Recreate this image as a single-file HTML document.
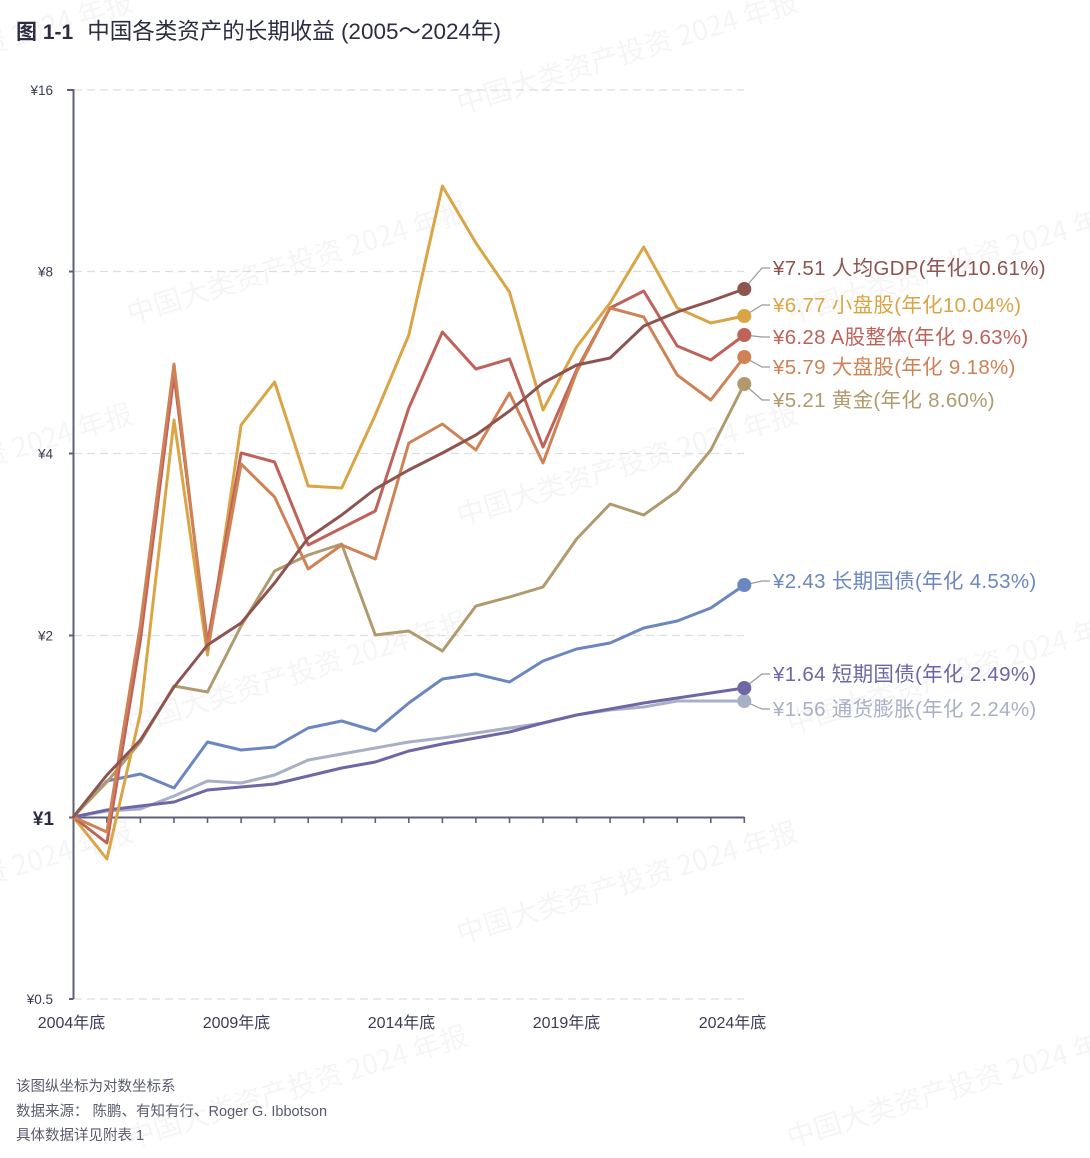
<!DOCTYPE html>
<html>
<head>
<meta charset="utf-8">
<style>
html,body{margin:0;padding:0;background:#fff;}
body{width:1090px;height:1158px;overflow:hidden;font-family:"Liberation Sans","Noto Sans CJK SC",sans-serif;}
svg{display:block;}
</style>
</head>
<body>
<svg width="1090" height="1158" viewBox="0 0 1090 1158" xmlns="http://www.w3.org/2000/svg" font-family="'Liberation Sans','Noto Sans CJK SC',sans-serif">
  <!-- watermarks -->
  <g fill="#000" fill-opacity="0.04" font-size="28" font-family="'Noto Sans CJK SC','Liberation Sans',sans-serif" text-anchor="middle">
    <text transform="translate(630,62) rotate(-17)">中国大类资产投资 2024 年报</text>
    <text transform="translate(-35,62) rotate(-17)">中国大类资产投资 2024 年报</text>
    <text transform="translate(300,272) rotate(-17)">中国大类资产投资 2024 年报</text>
    <text transform="translate(960,272) rotate(-17)">中国大类资产投资 2024 年报</text>
    <text transform="translate(630,474) rotate(-17)">中国大类资产投资 2024 年报</text>
    <text transform="translate(-35,474) rotate(-17)">中国大类资产投资 2024 年报</text>
    <text transform="translate(300,682) rotate(-17)">中国大类资产投资 2024 年报</text>
    <text transform="translate(960,682) rotate(-17)">中国大类资产投资 2024 年报</text>
    <text transform="translate(630,892) rotate(-17)">中国大类资产投资 2024 年报</text>
    <text transform="translate(-35,892) rotate(-17)">中国大类资产投资 2024 年报</text>
    <text transform="translate(300,1096) rotate(-17)">中国大类资产投资 2024 年报</text>
    <text transform="translate(960,1096) rotate(-17)">中国大类资产投资 2024 年报</text>
  </g>

  <!-- title -->
  <text x="16" y="39" fill="#2b2d42"><tspan font-size="21" font-weight="bold">图 1-1</tspan><tspan dx="14" font-size="22.5">中国各类资产的长期收益 (2005～2024年)</tspan></text>

  <!-- gridlines -->
  <g stroke="#dcdde6" stroke-width="1.3" stroke-dasharray="8,5">
    <line x1="74" y1="90" x2="744" y2="90"/>
    <line x1="74" y1="271.5" x2="744" y2="271.5"/>
    <line x1="74" y1="453.5" x2="744" y2="453.5"/>
    <line x1="74" y1="635.5" x2="744" y2="635.5"/>
    <line x1="74" y1="999" x2="744" y2="999"/>
  </g>

  <!-- axes -->
  <g stroke="#5d6079" stroke-width="2">
    <line x1="73.5" y1="89" x2="73.5" y2="999"/>
    <line x1="73.5" y1="817.5" x2="744.5" y2="817.5"/>
    <line x1="67" y1="90" x2="73.5" y2="90"/>
    <line x1="69" y1="271.5" x2="73.5" y2="271.5"/>
    <line x1="69" y1="453.5" x2="73.5" y2="453.5"/>
    <line x1="69" y1="635.5" x2="73.5" y2="635.5"/>
    <line x1="69" y1="817.5" x2="73.5" y2="817.5"/>
    <line x1="69" y1="999" x2="73.5" y2="999"/>
  </g>
  <g stroke="#5d6079" stroke-width="1.6">
    <line x1="106.9" y1="817" x2="106.9" y2="823"/>
    <line x1="140.4" y1="817" x2="140.4" y2="823"/>
    <line x1="174.0" y1="817" x2="174.0" y2="823"/>
    <line x1="207.5" y1="817" x2="207.5" y2="823"/>
    <line x1="241.1" y1="817" x2="241.1" y2="823"/>
    <line x1="274.6" y1="817" x2="274.6" y2="823"/>
    <line x1="308.2" y1="817" x2="308.2" y2="823"/>
    <line x1="341.7" y1="817" x2="341.7" y2="823"/>
    <line x1="375.3" y1="817" x2="375.3" y2="823"/>
    <line x1="408.8" y1="817" x2="408.8" y2="823"/>
    <line x1="442.4" y1="817" x2="442.4" y2="823"/>
    <line x1="475.9" y1="817" x2="475.9" y2="823"/>
    <line x1="509.5" y1="817" x2="509.5" y2="823"/>
    <line x1="543.0" y1="817" x2="543.0" y2="823"/>
    <line x1="576.6" y1="817" x2="576.6" y2="823"/>
    <line x1="610.1" y1="817" x2="610.1" y2="823"/>
    <line x1="643.7" y1="817" x2="643.7" y2="823"/>
    <line x1="677.2" y1="817" x2="677.2" y2="823"/>
    <line x1="710.8" y1="817" x2="710.8" y2="823"/>
    <line x1="744.3" y1="817" x2="744.3" y2="823"/>
  </g>

  <!-- y labels -->
  <g font-size="13.5" fill="#3a3c52" text-anchor="end">
    <text x="53" y="95">¥16</text>
    <text x="53" y="276.5">¥8</text>
    <text x="53" y="458.5">¥4</text>
    <text x="53" y="640.5">¥2</text>
    <text x="53" y="1004">¥0.5</text>
  </g>
  <text x="54" y="825" font-size="19" font-weight="bold" fill="#2b2d42" text-anchor="end">¥1</text>

  <!-- x labels -->
  <g font-size="16" fill="#3a3c55" text-anchor="middle">
    <text x="71.5" y="1028">2004年底</text>
    <text x="236.5" y="1028">2009年底</text>
    <text x="401.5" y="1028">2014年底</text>
    <text x="566.5" y="1028">2019年底</text>
    <text x="732.5" y="1028">2024年底</text>
  </g>

  <!-- series -->
  <g fill="none" stroke-width="3" stroke-linejoin="round" stroke-linecap="round">
    <polyline stroke="#a8b0c6" points="73.3,817 106.9,811 140.4,809 174.0,796 207.5,781 241.1,783 274.6,775 308.2,760 341.7,754 375.3,748 408.8,742 442.4,738 475.9,733 509.5,728 543.0,723 576.6,715 610.1,710 643.7,707 677.2,701 710.8,701 744.3,701"/>
    <polyline stroke="#6d67a6" points="73.3,817 106.9,810 140.4,806 174.0,802 207.5,790 241.1,787 274.6,784 308.2,776 341.7,768 375.3,762 408.8,751 442.4,744 475.9,738 509.5,732 543.0,723 576.6,715 610.1,709 643.7,703 677.2,698 710.8,693 744.3,688"/>
    <polyline stroke="#6c87bf" points="73.3,817 106.9,781 140.4,774 174.0,788 207.5,742 241.1,750 274.6,747 308.2,728 341.7,721 375.3,731 408.8,703 442.4,679 475.9,674 509.5,682 543.0,661 576.6,649 610.1,643 643.7,628 677.2,621 710.8,608 744.3,585"/>
    <polyline stroke="#b09a6e" points="73.3,817 106.9,782 140.4,742 174.0,686 207.5,692 241.1,626 274.6,571 308.2,555 341.7,544 375.3,635 408.8,631 442.4,651 475.9,606 509.5,597 543.0,587 576.6,539 610.1,504 643.7,515 677.2,491 710.8,450 744.3,384"/>
    <polyline stroke="#d9a546" points="73.3,817 106.9,859 140.4,713 174.0,420 207.5,655 241.1,425 274.6,382 308.2,486 341.7,488 375.3,415 408.8,335 442.4,186 475.9,243 509.5,292 543.0,410 576.6,347 610.1,303 643.7,247 677.2,308 710.8,323 744.3,316"/>
    <polyline stroke="#bf625a" points="73.3,817 106.9,843 140.4,640 174.0,375 207.5,643 241.1,453 274.6,462 308.2,545 341.7,528 375.3,511 408.8,408 442.4,332 475.9,369 509.5,359 543.0,447 576.6,370 610.1,308 643.7,291 677.2,346 710.8,360 744.3,335"/>
    <polyline stroke="#cf8256" points="73.3,817 106.9,832 140.4,625 174.0,364 207.5,650 241.1,464 274.6,497 308.2,569 341.7,545 375.3,559 408.8,443 442.4,424 475.9,450 509.5,393 543.0,463 576.6,372 610.1,308 643.7,317 677.2,375 710.8,400 744.3,357"/>
    <polyline stroke="#8e544f" points="73.3,817 106.9,775 140.4,740 174.0,687 207.5,645 241.1,623 274.6,583 308.2,538 341.7,515 375.3,489 408.8,470 442.4,453 475.9,435 509.5,411 543.0,383 576.6,365 610.1,358 643.7,326 677.2,312 710.8,301 744.3,289"/>
  </g>

  <!-- leader lines -->
  <g fill="none" stroke="#9a9a9a" stroke-width="1.2">
    <polyline points="744,289 762,268 770,268"/>
    <polyline points="744,316 762,305 770,305"/>
    <polyline points="744,335 762,337 770,337"/>
    <polyline points="744,357 762,367 770,367"/>
    <polyline points="744,384 762,400 770,400"/>
    <polyline points="744,585 762,581 770,581"/>
    <polyline points="744,688 762,674 770,674"/>
    <polyline points="744,701 762,709 770,709"/>
  </g>

  <!-- end dots -->
  <g>
    <circle cx="744.3" cy="701" r="7" fill="#a8b0c6"/>
    <circle cx="744.3" cy="688" r="7" fill="#6d67a6"/>
    <circle cx="744.3" cy="585" r="7" fill="#6c87bf"/>
    <circle cx="744.3" cy="384" r="7" fill="#b09a6e"/>
    <circle cx="744.3" cy="357" r="7" fill="#cf8256"/>
    <circle cx="744.3" cy="335" r="7" fill="#bf625a"/>
    <circle cx="744.3" cy="316" r="7" fill="#d9a546"/>
    <circle cx="744.3" cy="289" r="7" fill="#8e544f"/>
  </g>

  <!-- labels -->
  <g font-size="20.5" letter-spacing="0.3">
    <text x="773" y="275" fill="#8e544f">¥7.51 人均GDP(年化10.61%)</text>
    <text x="773" y="312" fill="#d9a546">¥6.77 小盘股(年化10.04%)</text>
    <text x="773" y="344" fill="#bf625a">¥6.28 A股整体(年化 9.63%)</text>
    <text x="773" y="374" fill="#cf8256">¥5.79 大盘股(年化 9.18%)</text>
    <text x="773" y="407" fill="#b09a6e">¥5.21 黄金(年化 8.60%)</text>
    <text x="773" y="588" fill="#6c87bf">¥2.43 长期国债(年化 4.53%)</text>
    <text x="773" y="681" fill="#6d67a6">¥1.64 短期国债(年化 2.49%)</text>
    <text x="773" y="716" fill="#a8b0c6">¥1.56 通货膨胀(年化 2.24%)</text>
  </g>

  <!-- footnotes -->
  <g font-size="14.5" fill="#5a5c6e">
    <text x="16" y="1091">该图纵坐标为对数坐标系</text>
    <text x="16" y="1116">数据来源：  陈鹏、有知有行、Roger G. Ibbotson</text>
    <text x="16" y="1140">具体数据详见附表 1</text>
  </g>
</svg>
</body>
</html>
